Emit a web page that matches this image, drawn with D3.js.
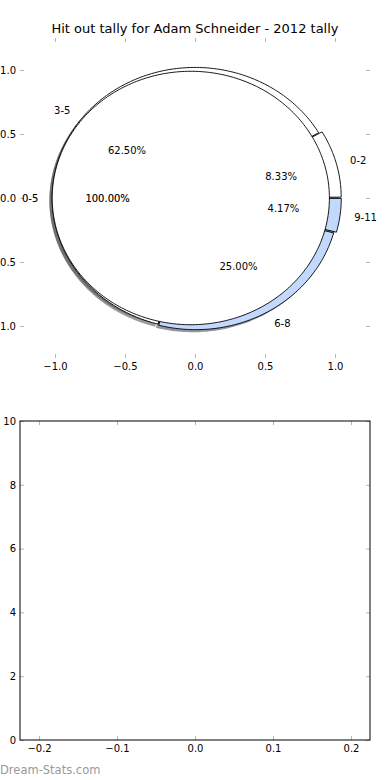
<!DOCTYPE html>
<html>
<head>
<meta charset="utf-8">
<script src="https://cdn.jsdelivr.net/npm/d3@7"></script>
<style>
  body { margin: 0; background: #fff; }
  text { font-family: "DejaVu Sans", sans-serif; }
</style>
</head>
<body>
<script>
// chart values
const titleText = 'Hit out tally for Adam Schneider - 2012 tally';
const outerLabels = ['0-2', '3-5', '6-8', '9-11'];
const outerValues = [2, 15, 6, 1];
const innerLabels = ['0-5'];
const innerValues = [24];
const pieTicks = [-1.0, -0.5, 0.0, 0.5, 1.0];
const barXTicks = [-0.2, -0.1, 0.0, 0.1, 0.2];
const barYTicks = [0, 2, 4, 6, 8, 10];

// look of the pies (kept apart from the values)
const outerColors = ['#ffffff', '#ffffff', '#c2d8fc', '#c2d8fc'];
const outerExplode = [0.025, 0, 0.01, 0.025];
const innerColors = ['#ffffff'];
const innerExplode = [0.03];
const outerRadius = 1.02;
const innerRadius = 0.99;

const width = 390, height = 780;

const svg = d3.select('body').append('svg')
    .attr('width', width)
    .attr('height', height);

// ---- top axes: the pie ----
const px = d3.scaleLinear().domain([-1.25, 1.25]).range([20, 370]);
const py = d3.scaleLinear().domain([-1.25, 1.25]).range([358, 38]);

svg.append('text')
    .attr('x', 195).attr('y', 33)
    .attr('text-anchor', 'middle')
    .style('font-size', '13px')
    .text(titleText);

const tickGray = '#b5b5b5';

function styleAxis(g) {
    g.select('.domain').remove();
    g.selectAll('.tick line').attr('stroke', tickGray);
    g.selectAll('.tick text').style('font-size', '10px').attr('fill', '#000')
        .style('font-family', '"DejaVu Sans", sans-serif');
}

svg.append('g').attr('transform', 'translate(0,358)')
    .call(d3.axisBottom(px).tickValues(pieTicks).tickFormat(d3.format('.1f'))
        .tickSizeInner(-4).tickSizeOuter(0).tickPadding(5))
    .call(styleAxis);
svg.append('g').attr('transform', 'translate(0,38)')
    .call(d3.axisTop(px).tickValues(pieTicks).tickFormat('')
        .tickSizeInner(-4).tickSizeOuter(0))
    .call(styleAxis);
svg.append('g').attr('transform', 'translate(20,0)')
    .call(d3.axisLeft(py).tickValues(pieTicks).tickFormat(d3.format('.1f'))
        .tickSizeInner(-4).tickSizeOuter(0).tickPadding(4))
    .call(styleAxis);
svg.append('g').attr('transform', 'translate(370,0)')
    .call(d3.axisRight(py).tickValues(pieTicks).tickFormat('')
        .tickSizeInner(-4).tickSizeOuter(0))
    .call(styleAxis);

// angles from d3.pie, turned into matplotlib style (counter-clockwise from +x)
const pieGen = d3.pie().sort(null).startAngle(0).endAngle(2 * Math.PI);

function buildWedges(values, labels, colors, explode, r) {
    const total = d3.sum(values);
    return pieGen(values).map((a, i) => {
        const t1 = a.startAngle, t2 = a.endAngle;
        const mid = (t1 + t2) / 2;
        return {
            label: labels[i],
            pct: (100 * values[i] / total).toFixed(2) + '%',
            t1: t1, t2: t2, mid: mid, r: r,
            full: (t2 - t1) >= 2 * Math.PI - 1e-9,
            cx: explode[i] * Math.cos(mid),
            cy: explode[i] * Math.sin(mid),
            color: colors[i]
        };
    });
}

const outer = buildWedges(outerValues, outerLabels, outerColors, outerExplode, outerRadius);
const inner = buildWedges(innerValues, innerLabels, innerColors, innerExplode, innerRadius);

const line = d3.line().x(p => px(p[0])).y(p => py(p[1]));

function wedgePath(w, ox, oy) {
    const pts = [];
    const n = Math.max(8, Math.ceil((w.t2 - w.t1) / 0.02));
    if (!w.full) pts.push([w.cx + ox, w.cy + oy]);
    for (let k = 0; k <= n; k++) {
        const t = w.t1 + (w.t2 - w.t1) * k / n;
        pts.push([w.cx + ox + w.r * Math.cos(t), w.cy + oy + w.r * Math.sin(t)]);
    }
    return line(pts) + 'Z';
}

function shadowColor(c) {
    const rgb = d3.rgb(c);
    return d3.rgb(rgb.r * 0.3, rgb.g * 0.3, rgb.b * 0.3).toString();
}

const pieGroup = svg.append('g');
const allWedges = outer.concat(inner);

// shadows below every wedge
pieGroup.selectAll('path.shadow')
    .data(allWedges)
    .enter().append('path')
    .attr('class', 'shadow')
    .attr('d', d => wedgePath(d, -0.02, -0.02))
    .attr('fill', d => shadowColor(d.color))
    .attr('fill-opacity', 0.55)
    .attr('stroke', 'none');

// outer pie first, inner pie on top of it
pieGroup.selectAll('path.wedge')
    .data(allWedges)
    .enter().append('path')
    .attr('class', 'wedge')
    .attr('d', d => wedgePath(d, 0, 0))
    .attr('fill', d => d.color)
    .attr('stroke', '#000')
    .attr('stroke-width', 0.9)
    .attr('stroke-linejoin', 'miter');

// labels and percentages (the inner pie texts look drawn twice in the original)
function drawTexts(wedges, opacity) {
    wedges.forEach(w => {
        const lx = w.cx + 1.1 * w.r * Math.cos(w.mid);
        const ly = w.cy + 1.1 * w.r * Math.sin(w.mid);
        pieGroup.append('text')
            .attr('x', px(lx)).attr('y', py(ly))
            .attr('dy', '0.35em')
            .attr('text-anchor', lx > 0 ? 'start' : 'end')
            .attr('fill-opacity', opacity)
            .style('font-size', '10px')
            .text(w.label);
        const tx = w.cx + 0.6 * w.r * Math.cos(w.mid);
        const ty = w.cy + 0.6 * w.r * Math.sin(w.mid);
        pieGroup.append('text')
            .attr('x', px(tx)).attr('y', py(ty))
            .attr('dy', '0.35em')
            .attr('text-anchor', 'middle')
            .attr('fill-opacity', opacity)
            .style('font-size', '10px')
            .text(w.pct);
    });
}
drawTexts(outer, 1);
drawTexts(inner, 1);
drawTexts(inner, 0.35);

// ---- bottom axes: empty ----
const bx = d3.scaleLinear().domain([-0.2244, 0.2244]).range([20, 370]);
const by = d3.scaleLinear().domain([0, 10]).range([740, 421]);

svg.append('g').attr('transform', 'translate(0,740)')
    .call(d3.axisBottom(bx).tickValues(barXTicks).tickFormat(d3.format('.1f'))
        .tickSizeInner(-4).tickSizeOuter(0).tickPadding(5))
    .call(styleAxis);
svg.append('g').attr('transform', 'translate(0,421)')
    .call(d3.axisTop(bx).tickValues(barXTicks).tickFormat('')
        .tickSizeInner(-4).tickSizeOuter(0))
    .call(styleAxis);
svg.append('g').attr('transform', 'translate(20,0)')
    .call(d3.axisLeft(by).tickValues(barYTicks).tickFormat(d3.format('d'))
        .tickSizeInner(-4).tickSizeOuter(0).tickPadding(4))
    .call(styleAxis);
svg.append('g').attr('transform', 'translate(370,0)')
    .call(d3.axisRight(by).tickValues(barYTicks).tickFormat('')
        .tickSizeInner(-4).tickSizeOuter(0))
    .call(styleAxis);

svg.append('rect')
    .attr('x', bx.range()[0]).attr('y', by.range()[1])
    .attr('width', bx.range()[1] - bx.range()[0])
    .attr('height', by.range()[0] - by.range()[1])
    .attr('fill', 'none')
    .attr('stroke', '#000')
    .attr('stroke-width', 1);

// watermark
svg.append('text')
    .attr('x', 0).attr('y', 774)
    .style('font-size', '11.5px')
    .attr('fill', '#999')
    .text('Dream-Stats.com');
</script>
</body>
</html>
